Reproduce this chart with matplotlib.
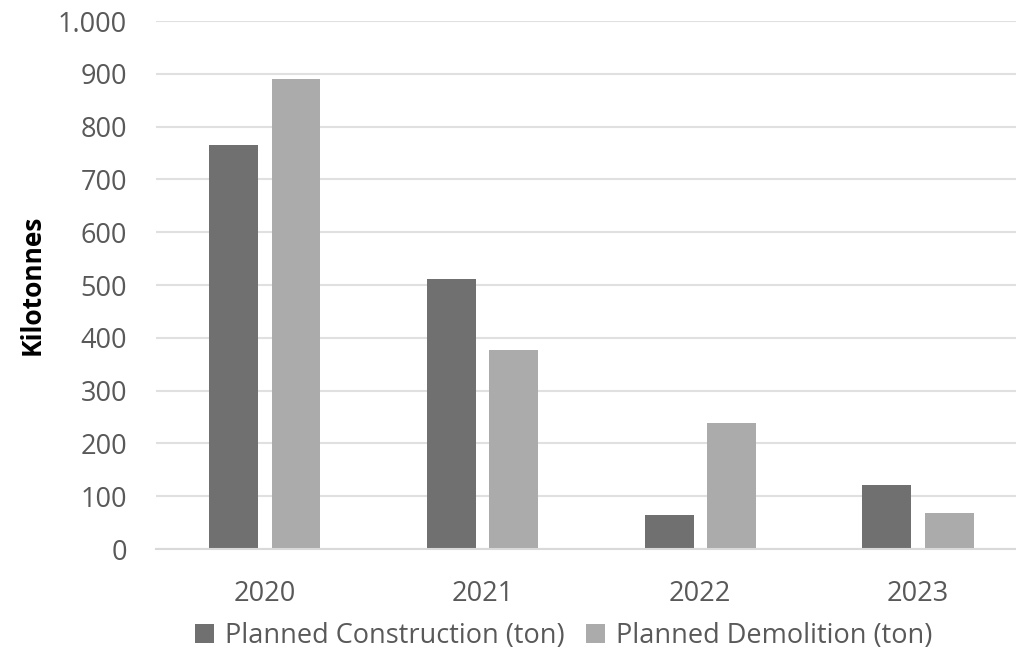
import numpy as np
import matplotlib.pyplot as plt
from matplotlib.ticker import FuncFormatter

years = ['2020', '2021', '2022', '2023']
construction = [765, 511, 64, 121]
demolition = [890, 377, 239, 68]
yticks = [0, 100, 200, 300, 400, 500, 600, 700, 800, 900, 1000]

plt.rcParams['font.family'] = ['Open Sans', 'DejaVu Sans']

fig = plt.figure(figsize=(10.16, 6.53), dpi=100)
ax = fig.add_axes([156 / 1016, 1 - 549 / 653, 860 / 1016, 528 / 653])

x = np.arange(len(years))
w = 0.225
off = 0.143
ax.bar(x - off, construction, w, color='#707070', label='Planned Construction (ton)')
ax.bar(x + off, demolition, w, color='#ababab', label='Planned Demolition (ton)')

ax.set_xlim(-0.5, 3.45)
ax.set_ylim(0, 1000)
ax.set_yticks(yticks)
# thousands separator is a dot in the source
ax.yaxis.set_major_formatter(FuncFormatter(lambda v, p: f'{int(v):,}'.replace(',', '.')))
ax.set_xticks(x)
ax.set_xticklabels(years)
ax.grid(axis='y', color='#e0e0e0', linewidth=1.5)
ax.set_axisbelow(True)
for s in ['top', 'right', 'left']:
    ax.spines[s].set_visible(False)
ax.spines['bottom'].set_color('#d9d9d9')
ax.spines['bottom'].set_linewidth(1.5)
ax.tick_params(axis='y', length=0, pad=21, labelsize=19.5, labelcolor='#595959')
ax.tick_params(axis='x', length=0, pad=22, labelsize=19.5, labelcolor='#595959')

ax.set_ylabel('Kilotonnes', fontsize=19, fontweight='bold', color='black')
ax.yaxis.set_label_coords(-110 / 860, 0.5)

leg = ax.legend(loc='center', bbox_to_anchor=(0.474, -0.165),
                ncol=2, frameon=False, fontsize=19.5, handlelength=0.7, handleheight=0.7,
                handletextpad=0.4, columnspacing=0.8, labelcolor='#595959')

fig.savefig('out.png', dpi=100)
